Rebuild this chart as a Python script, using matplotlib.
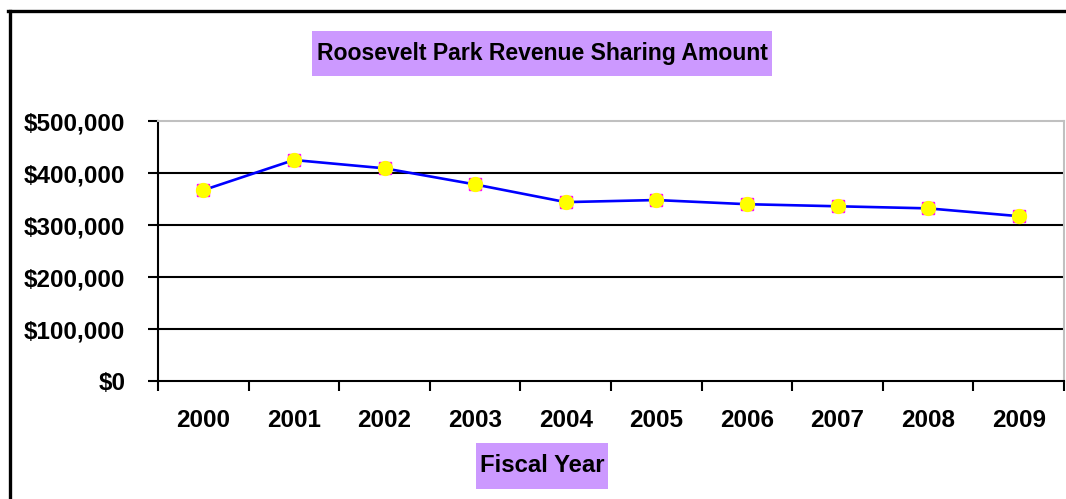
import matplotlib
matplotlib.use("Agg")
import matplotlib.pyplot as plt
from matplotlib.patches import Rectangle
from matplotlib.lines import Line2D
from matplotlib.ticker import FuncFormatter, FixedLocator
import numpy as np

years = ["2000", "2001", "2002", "2003", "2004", "2005", "2006", "2007", "2008", "2009"]
revenue = [367000, 425000, 409000, 378000, 344000, 348000, 340000, 336000, 332000, 317000]
y_ticks = [0, 100000, 200000, 300000, 400000, 500000]
title = "Roosevelt Park Revenue Sharing Amount"
xlabel = "Fiscal Year"

plt.rcParams['font.family'] = ['Liberation Sans', 'DejaVu Sans']
plt.rcParams['font.weight'] = 'bold'

W, H = 1066, 499
fig = plt.figure(figsize=(W / 100, H / 100), dpi=100)
fig.patch.set_facecolor('white')

L, R, T, B = 158, 1064, 121, 381
ax = fig.add_axes([L / W, 1 - B / H, (R - L) / W, (B - T) / H])

x = np.arange(len(years))
ax.plot(x, revenue, color='#0000FF', lw=1.9, zorder=3, clip_on=False)
ax.plot(x, revenue, ls='none', marker='s', ms=9, mfc='#FF00FF', mec='#FF00FF', zorder=4, clip_on=False)
ax.plot(x, revenue, ls='none', marker='o', ms=10, mfc='#FFFF00', mec='#FFFF00', zorder=5, clip_on=False)

ax.set_xlim(-0.5, len(years) - 0.5)
ax.set_ylim(0, 500000)

ax.set_yticks(y_ticks)
ax.yaxis.set_major_formatter(FuncFormatter(lambda v, p: "${:,.0f}".format(v)))
for v in y_ticks[1:-1]:
    ax.axhline(v, color='black', lw=1.5, zorder=1)

ax.set_xticks(x)
ax.set_xticklabels(years)
ax.xaxis.set_minor_locator(FixedLocator(np.arange(len(years) + 1) - 0.5))
ax.tick_params(axis='x', which='major', length=0, pad=20.5, labelsize=17.5)
ax.tick_params(axis='x', which='minor', length=7, width=1.5, direction='out', color='black')
ax.tick_params(axis='y', which='major', length=7, width=1.5, direction='out', color='black', pad=16.5, labelsize=17.5)
for lab in ax.get_xticklabels() + ax.get_yticklabels():
    lab.set_fontweight('bold')

ax.spines['left'].set_color('black')
ax.spines['left'].set_linewidth(1.5)
ax.spines['bottom'].set_color('black')
ax.spines['bottom'].set_linewidth(1.5)
ax.spines['top'].set_color('#C0C0C0')
ax.spines['top'].set_linewidth(1.5)
ax.spines['right'].set_color('#C0C0C0')
ax.spines['right'].set_linewidth(1.5)

# title box
fig.patches.append(Rectangle((312 / W, 1 - 76 / H), 460 / W, 45 / H, transform=fig.transFigure,
                             facecolor='#CC99FF', edgecolor='none', zorder=0))
fig.text(542 / W, 1 - 53.5 / H, title, ha='center', va='center', fontsize=16.6, fontweight='bold')

# x label box
fig.patches.append(Rectangle((476 / W, 1 - 489 / H), 132 / W, 46 / H, transform=fig.transFigure,
                             facecolor='#CC99FF', edgecolor='none', zorder=0))
fig.text(542 / W, 1 - 465.5 / H, xlabel, ha='center', va='center', fontsize=17.2, fontweight='bold')

# outer border (left and top)
fig.lines.append(Line2D([9.5 / W, 9.5 / W], [0, 1 - 10.5 / H], transform=fig.transFigure, color='black', lw=2.4))
fig.lines.append(Line2D([8.3 / W, 1], [1 - 10.5 / H, 1 - 10.5 / H], transform=fig.transFigure, color='black', lw=2.4))

fig.savefig('out.png', dpi=100)
